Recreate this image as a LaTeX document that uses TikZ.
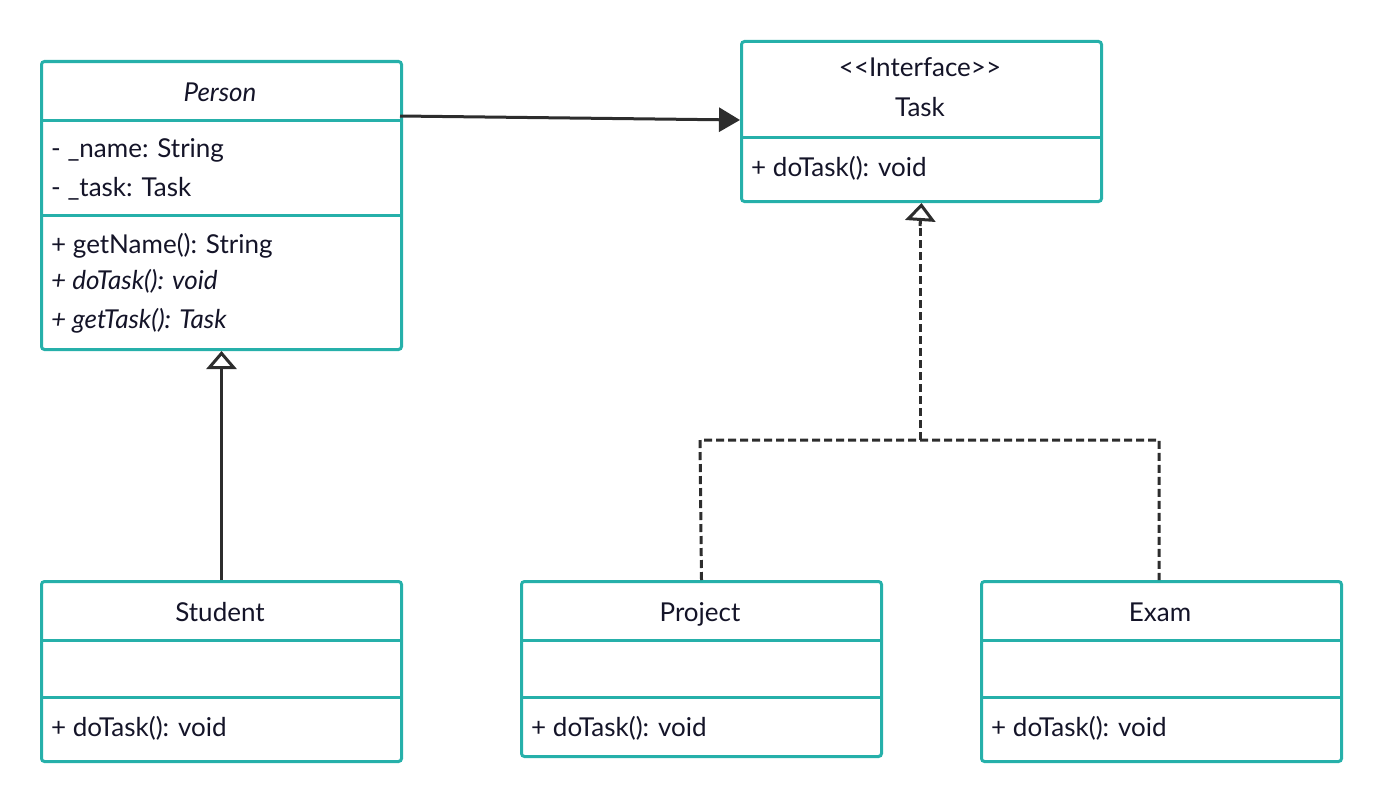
\documentclass[tikz,border=0pt]{standalone}
\usepackage{fontspec}
\setmainfont{Lato}
\usetikzlibrary{arrows.meta}
\definecolor{umlteal}{RGB}{38,176,170}
\definecolor{umlink}{RGB}{20,20,40}
\definecolor{umlline}{RGB}{45,45,45}
\newcommand{\umlfont}{\fontsize{26}{30}\selectfont}
\tikzset{
  classbox/.style={draw=umlteal, line width=3pt, rounded corners=3pt, fill=white,
    rectangle, inner sep=0pt, anchor=north west},
  divider/.style={draw=umlteal, line width=3pt},
  member/.style={text=umlink, inner sep=0pt, anchor=base west, font=\umlfont},
  title/.style={text=umlink, inner sep=0pt, anchor=base, font=\umlfont},
  assoc/.style={draw=umlline, line width=3pt, -{Triangle[length=21pt,width=24pt]}},
  inherit/.style={draw=umlline, line width=3pt,
    -{Triangle[open, length=18pt, width=30pt, fill=white, line width=3pt]}},
  realize/.style={draw=umlline, line width=3pt, dash pattern=on 8pt off 4pt},
}
\begin{document}
\begin{tikzpicture}[x=1pt, y=-1pt]
  \useasboundingbox (0,0) rectangle (1380,800);

  % ---- class boxes ----
  \node[classbox, minimum width=360pt, minimum height=288pt] (person) at (40,60) {};
  \node[classbox, minimum width=360pt, minimum height=160pt] (task) at (740,40) {};
  \node[classbox, minimum width=360pt, minimum height=180pt] (student) at (40,580) {};
  \node[classbox, minimum width=360pt, minimum height=175pt] (project) at (520,580) {};
  \node[classbox, minimum width=360pt, minimum height=180pt] (exam) at (980,580) {};

  % ---- compartment dividers ----
  \draw[divider] (40,120) -- (400,120);
  \draw[divider] (40,215) -- (400,215);
  \draw[divider] (740,137) -- (1100,137);
  \draw[divider] (40,640) -- (400,640);
  \draw[divider] (40,697) -- (400,697);
  \draw[divider] (520,640) -- (880,640);
  \draw[divider] (520,697) -- (880,697);
  \draw[divider] (980,640) -- (1340,640);
  \draw[divider] (980,697) -- (1340,697);

  % ---- Person ----
  \node[title, font=\umlfont\itshape] (pname) at (220,101) {Person};
  \node[member] (pa1) at (51,157) {- \_name: String};
  \node[member] (pa2) at (51,196) {- \_task: Task};
  \node[member] (pm1) at (51,253) {+ getName(): String};
  \node[member, font=\umlfont\itshape] (pm2) at (51,289) {+ doTask(): void};
  \node[member, font=\umlfont\itshape] (pm3) at (51,328) {+ getTask(): Task};

  % ---- Task ----
  \node[title] (tstereo) at (920,77) {<{}<Interface>{}>};
  \node[title] (tname) at (920,116) {Task};
  \node[member] (tm1) at (751,176) {+ doTask(): void};

  % ---- Student ----
  \node[title] (sname) at (220,621) {Student};
  \node[member] (sm1) at (51,736) {+ doTask(): void};

  % ---- Project ----
  \node[title] (prname) at (700,621) {Project};
  \node[member] (prm1) at (531,736) {+ doTask(): void};

  % ---- Exam ----
  \node[title] (ename) at (1160,621) {Exam};
  \node[member] (em1) at (991,736) {+ doTask(): void};

  % ---- association Person -> Task ----
  \coordinate (assocA) at (400,116);
  \coordinate (assocB) at (740,120);
  \draw[assoc] (assocA) -- (assocB);

  % ---- generalization Student -> Person ----
  \draw[inherit] (student.north) -- (person.south);

  % ---- realization Project/Exam -> Task ----
  \coordinate (join) at (920,440);
  \draw[realize] (project.north) -- (700,440) -- (1159,440) -- (1159,580);
  \draw[realize] (join) -- (920,222);
  \draw[inherit] (920,226) -- (task.south);
\end{tikzpicture}
\end{document}
